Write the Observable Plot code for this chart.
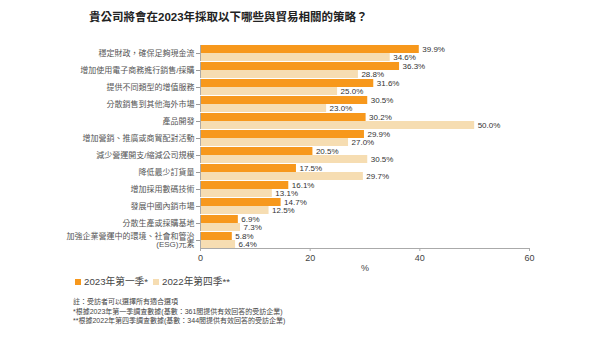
<!DOCTYPE html>
<html><head><meta charset="utf-8">
<script src="https://cdn.jsdelivr.net/npm/d3@7"></script>
<script src="https://cdn.jsdelivr.net/npm/@observablehq/plot@0.6"></script>
<style>
body{margin:0;width:600px;height:340px;background:#fff;font-family:"Liberation Sans","Noto Sans CJK TC",sans-serif;overflow:hidden;position:relative;}
#title{position:absolute;left:89px;top:8px;font-size:11.5px;font-weight:bold;color:#222;white-space:nowrap;}
#chart{position:absolute;left:0;top:30px;}
#legend{position:absolute;left:75px;top:275px;}
#legend div, #legend span{font-size:9.7px !important;color:#444 !important;line-height:14px !important;}
#legend > div{min-height:14px !important;margin:0 !important;}
#legend span{margin-right:5px !important;}
#legend svg{margin-right:3px !important;}
#notes{position:absolute;left:73px;top:297px;font-size:7px;line-height:9.5px;color:#444;white-space:nowrap;}
</style></head><body>
<div id="title">貴公司將會在2023年採取以下哪些與貿易相關的策略？</div>
<div id="chart"></div>
<div id="legend"></div>
<div id="notes"></div>
<script>
const categories = [
  "穩定財政，確保足夠現金流",
  "增加使用電子商務進行銷售/採購",
  "提供不同類型的增值服務",
  "分散銷售到其他海外市場",
  "產品開發",
  "增加營銷、推廣或商貿配對活動",
  "減少營運開支/縮減公司規模",
  "降低最少訂貨量",
  "增加採用數碼技術",
  "發展中國內銷市場",
  "分散生產或採購基地",
  "加強企業營運中的環境、社會和管治\n(ESG)元素"
];
const series = ["2023年第一季*", "2022年第四季**"];
const q1_2023 = [39.9, 36.3, 31.6, 30.5, 30.2, 29.9, 20.5, 17.5, 16.1, 14.7, 6.9, 5.8];
const q4_2022 = [34.6, 28.8, 25.0, 23.0, 50.0, 27.0, 30.5, 29.7, 13.1, 12.5, 7.3, 6.4];
const xTicks = [0, 20, 40, 60];
const colors = ["#f7981c", "#f6ddb2"];
const notes = [
  "註：受訪者可以選擇所有適合選項",
  "*根據2023年第一季調查數據(基數：361間提供有效回答的受訪企業)",
  "**根據2022年第四季調查數據(基數：344間提供有效回答的受訪企業)"
];

const data = categories.flatMap((c, i) => [
  {category: c, series: series[0], value: q1_2023[i]},
  {category: c, series: series[1], value: q4_2022[i]}
]);

const font = '"Liberation Sans","Noto Sans CJK TC",sans-serif';

const chart = Plot.plot({
  width: 600, height: 245,
  marginTop: 14, marginBottom: 27, marginLeft: 200, marginRight: 71,
  style: {fontFamily: font, fontSize: "8px", color: "#444", background: "#fff"},
  x: {domain: [0, 60]},
  y: {domain: series, axis: null, paddingInner: 0.06, paddingOuter: 0},
  fy: {domain: categories, paddingInner: 0.06, paddingOuter: 0, axis: null},
  color: {domain: series, range: colors},
  marks: [
    Plot.barX(data, {fy: "category", y: "series", x: "value", fill: "series"}),
    Plot.text(data, {fy: "category", y: "series", x: "value", text: d => d.value.toFixed(1) + "%", textAnchor: "start", dx: 3, fontSize: 8, fill: "#333"}),
    Plot.ruleX([0], {stroke: "#aaa"}),
    Plot.frame({anchor: "bottom", facetAnchor: "bottom", stroke: "#aaa"}),
    Plot.axisFy({anchor: "left", tickSize: 4, tickPadding: 2, label: null, fontSize: 8, color: "#555", stroke: "#999"}),
    Plot.axisX({ticks: xTicks, tickSize: 3, tickPadding: 3, fontSize: 9, color: "#444", stroke: "#aaa", label: "%", labelAnchor: "center", labelArrow: false, labelOffset: 22})
  ]
});
document.getElementById("chart").appendChild(chart);

const legend = Plot.legend({color: {type: "ordinal", domain: series, range: colors}, swatchSize: 6, style: {fontSize: "9.7px", fontFamily: font, color: "#444"}});
document.getElementById("legend").appendChild(legend);

document.getElementById("notes").innerHTML = notes.map(n => `<div>${n}</div>`).join("");
</script>
</body></html>
